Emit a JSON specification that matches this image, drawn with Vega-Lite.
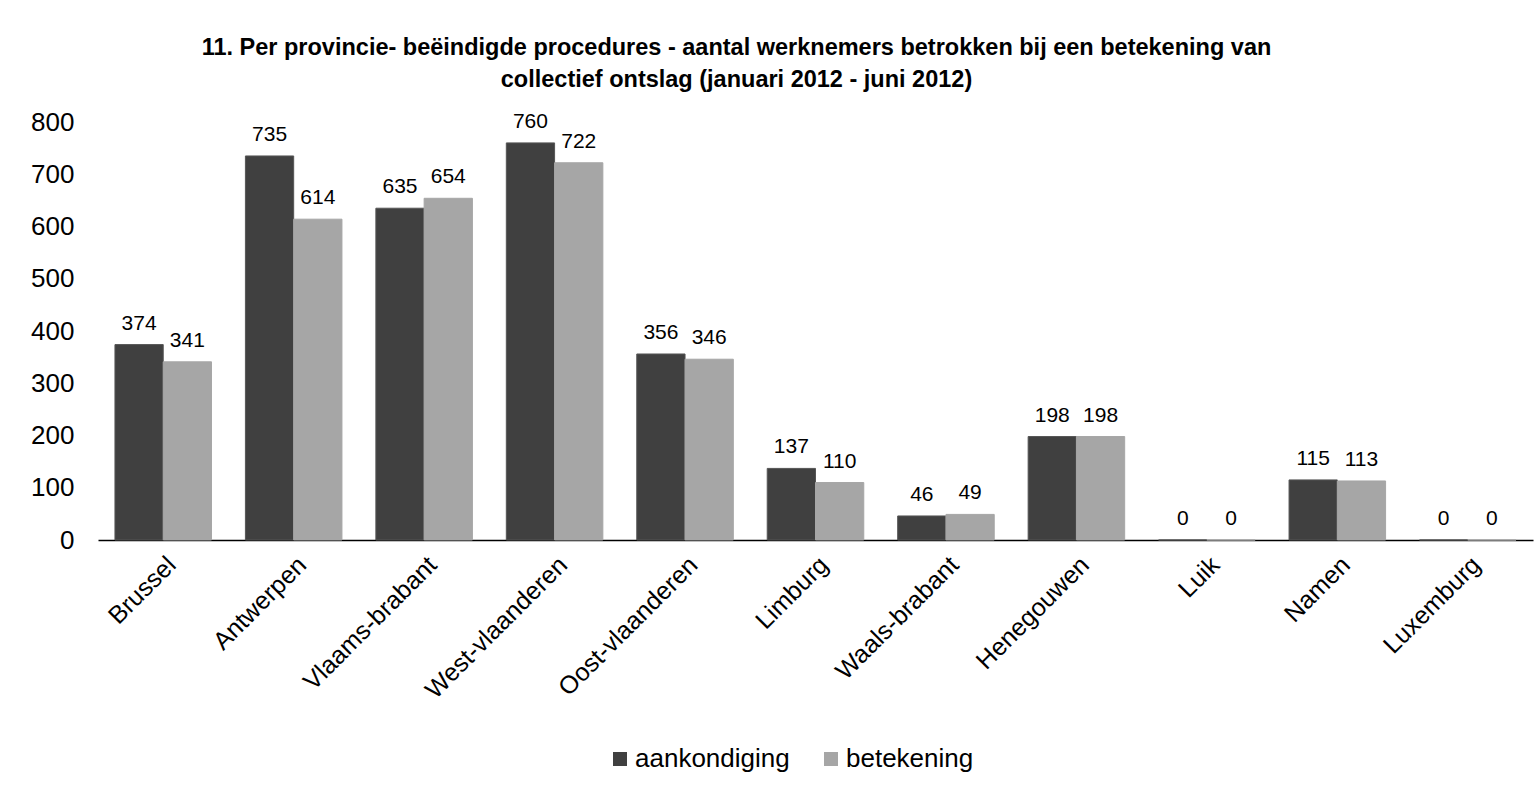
{
  "$schema": "https://vega.github.io/schema/vega-lite/v6.json",
  "autosize": {"type": "none"},
  "width": 1435,
  "height": 418,
  "padding": {"left": 98, "top": 122, "right": 7, "bottom": 250},
  "background": "white",
  "config": {
    "view": {"stroke": null},
    "font": "Liberation Sans"
  },
  "title": {
    "text": ["11. Per provincie- beëindigde procedures - aantal werknemers betrokken bij een betekening van", "collectief ontslag (januari 2012 - juni 2012)"],
    "font": "Liberation Sans",
    "fontSize": 23.5,
    "fontWeight": "bold",
    "color": "#000000",
    "anchor": "middle",
    "dx": -79,
    "lineHeight": 32,
    "offset": 18
  },
  "data": {
    "values": [
      {"provincie": "Brussel", "reeks": "aankondiging", "waarde": 374},
      {"provincie": "Brussel", "reeks": "betekening", "waarde": 341},
      {"provincie": "Antwerpen", "reeks": "aankondiging", "waarde": 735},
      {"provincie": "Antwerpen", "reeks": "betekening", "waarde": 614},
      {"provincie": "Vlaams-brabant", "reeks": "aankondiging", "waarde": 635},
      {"provincie": "Vlaams-brabant", "reeks": "betekening", "waarde": 654},
      {"provincie": "West-vlaanderen", "reeks": "aankondiging", "waarde": 760},
      {"provincie": "West-vlaanderen", "reeks": "betekening", "waarde": 722},
      {"provincie": "Oost-vlaanderen", "reeks": "aankondiging", "waarde": 356},
      {"provincie": "Oost-vlaanderen", "reeks": "betekening", "waarde": 346},
      {"provincie": "Limburg", "reeks": "aankondiging", "waarde": 137},
      {"provincie": "Limburg", "reeks": "betekening", "waarde": 110},
      {"provincie": "Waals-brabant", "reeks": "aankondiging", "waarde": 46},
      {"provincie": "Waals-brabant", "reeks": "betekening", "waarde": 49},
      {"provincie": "Henegouwen", "reeks": "aankondiging", "waarde": 198},
      {"provincie": "Henegouwen", "reeks": "betekening", "waarde": 198},
      {"provincie": "Luik", "reeks": "aankondiging", "waarde": 0},
      {"provincie": "Luik", "reeks": "betekening", "waarde": 0},
      {"provincie": "Namen", "reeks": "aankondiging", "waarde": 115},
      {"provincie": "Namen", "reeks": "betekening", "waarde": 113},
      {"provincie": "Luxemburg", "reeks": "aankondiging", "waarde": 0},
      {"provincie": "Luxemburg", "reeks": "betekening", "waarde": 0}
    ]
  },
  "encoding": {
    "x": {
      "field": "provincie",
      "type": "nominal",
      "sort": null,
      "scale": {"paddingInner": 0.26, "paddingOuter": 0.13},
      "axis": {
        "title": null,
        "labelAngle": -45,
        "labelAlign": "right",
        "labelBaseline": "top",
        "labelFontSize": 25,
        "labelColor": "#000000",
        "labelPadding": 12,
        "labelLimit": 0,
        "labelOverlap": false,
        "ticks": false,
        "domainColor": "#000000",
        "domainWidth": 1.5,
        "labelFont": "Liberation Sans"
      }
    },
    "xOffset": {
      "field": "reeks",
      "type": "nominal",
      "scale": {"paddingInner": 0, "paddingOuter": 0}
    },
    "y": {
      "field": "waarde",
      "type": "quantitative",
      "scale": {"domain": [0, 800], "nice": false},
      "axis": {
        "title": null,
        "values": [0, 100, 200, 300, 400, 500, 600, 700, 800],
        "grid": false,
        "domain": false,
        "ticks": false,
        "labelFontSize": 26,
        "labelColor": "#000000",
        "labelPadding": 24,
        "labelFont": "Liberation Sans"
      }
    }
  },
  "layer": [
    {
      "mark": {"type": "bar", "strokeWidth": 1},
      "encoding": {
        "color": {
          "field": "reeks",
          "type": "nominal",
          "scale": {"domain": ["aankondiging", "betekening"], "range": ["#404040", "#A6A6A6"]},
          "legend": {
            "title": null,
            "orient": "none",
            "legendX": 509,
            "legendY": 624,
            "direction": "horizontal",
            "symbolType": "square",
            "symbolSize": 196,
            "symbolStrokeWidth": 0,
            "labelFontSize": 26,
            "labelColor": "#000000",
            "labelFont": "Liberation Sans",
            "labelLimit": 0,
            "columnPadding": 28,
            "labelOffset": 2
          }
        },
        "stroke": {
          "field": "reeks",
          "type": "nominal",
          "scale": {"domain": ["aankondiging", "betekening"], "range": ["#555555", "#A6A6A6"]},
          "legend": null
        }
      }
    },
    {
      "mark": {"type": "text", "baseline": "alphabetic", "dy": -15, "fontSize": 21, "color": "#000000", "font": "Liberation Sans"},
      "encoding": {
        "text": {"field": "waarde", "type": "quantitative"}
      }
    }
  ]
}
